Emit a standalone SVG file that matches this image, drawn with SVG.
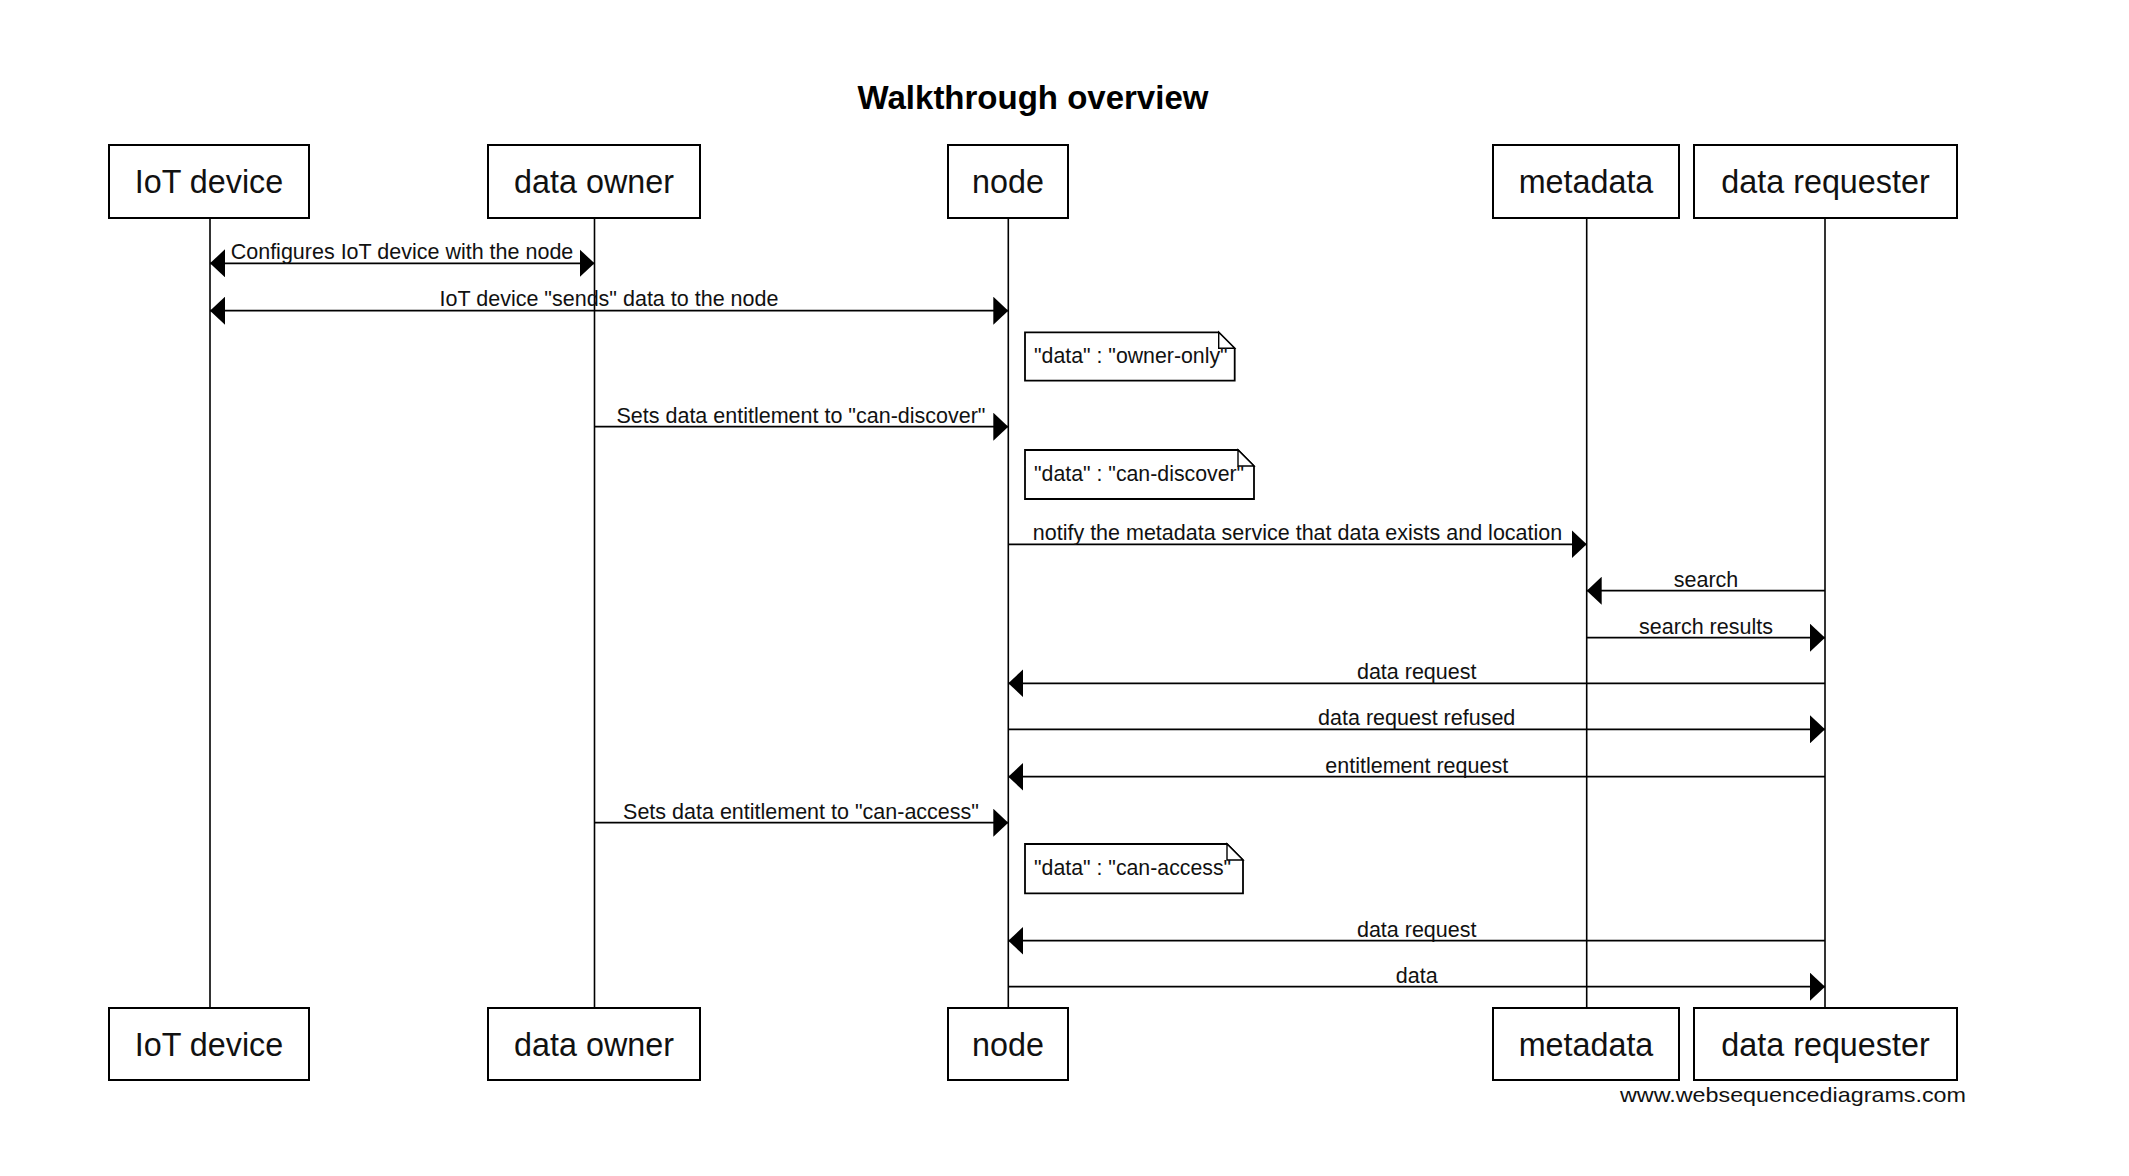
<svg xmlns="http://www.w3.org/2000/svg" width="2129" height="1176" viewBox="0 0 2129 1176">
<defs>
<style>
.box{fill:#fff;stroke:#000;stroke-width:2}
.life{stroke:#000;stroke-width:1.6;fill:none}
.msg{stroke:#000;stroke-width:1.8;fill:none}
.note{fill:#fff;stroke:#000;stroke-width:1.8}
.fold{fill:#fff;stroke:#000;stroke-width:1.4}
.pt{font-family:"Liberation Sans",Arial,sans-serif;font-size:32.3px;text-anchor:middle;fill:#111}
.lbl{font-family:"Liberation Sans",Arial,sans-serif;font-size:21.5px;text-anchor:middle;fill:#111}
.ntx{font-family:"Liberation Sans",Arial,sans-serif;font-size:21.3px;fill:#111}
.title{font-family:"Liberation Sans",Arial,sans-serif;font-size:33px;font-weight:bold;text-anchor:middle;fill:#000}
.wm{font-family:"Liberation Sans",Arial,sans-serif;font-size:21px;fill:#111}
</style>
<marker id="ah" markerUnits="userSpaceOnUse" markerWidth="15" markerHeight="28" refX="15" refY="14" orient="auto-start-reverse" viewBox="0 0 15 28"><path d="M0,0 L15,14 L0,28 Z" fill="#000"/></marker>
</defs>
<rect width="2129" height="1176" fill="#fff"/>
<text class="title" x="1033" y="109">Walkthrough overview</text>

<g id="iot-device">
<line class="life" x1="210" y1="218" x2="210" y2="1008"/>
<rect class="box" x="109" y="145" width="200" height="73"/>
<text class="pt" x="209" y="193">IoT device</text>
<rect class="box" x="109" y="1008" width="200" height="72"/>
<text class="pt" x="209" y="1056">IoT device</text>
</g>
<g id="data-owner">
<line class="life" x1="594.5" y1="218" x2="594.5" y2="1008"/>
<rect class="box" x="488" y="145" width="212" height="73"/>
<text class="pt" x="594" y="193">data owner</text>
<rect class="box" x="488" y="1008" width="212" height="72"/>
<text class="pt" x="594" y="1056">data owner</text>
</g>
<g id="node">
<line class="life" x1="1008.3" y1="218" x2="1008.3" y2="1008"/>
<rect class="box" x="948" y="145" width="120" height="73"/>
<text class="pt" x="1008" y="193">node</text>
<rect class="box" x="948" y="1008" width="120" height="72"/>
<text class="pt" x="1008" y="1056">node</text>
</g>
<g id="metadata">
<line class="life" x1="1586.7" y1="218" x2="1586.7" y2="1008"/>
<rect class="box" x="1493" y="145" width="186" height="73"/>
<text class="pt" x="1586" y="193">metadata</text>
<rect class="box" x="1493" y="1008" width="186" height="72"/>
<text class="pt" x="1586" y="1056">metadata</text>
</g>
<g id="data-requester">
<line class="life" x1="1825" y1="218" x2="1825" y2="1008"/>
<rect class="box" x="1694" y="145" width="263" height="73"/>
<text class="pt" x="1825.5" y="193">data requester</text>
<rect class="box" x="1694" y="1008" width="263" height="72"/>
<text class="pt" x="1825.5" y="1056">data requester</text>
</g>

<g id="note-owner-only">
<path class="note" d="M1025,332.3 H1218.7 L1234.7,348.3 V380.7 H1025 Z"/>
<path class="fold" d="M1218.7,332.3 V348.3 H1234.7 Z"/>
<text class="ntx" x="1034" y="362.7">"data" : "owner-only"</text>
</g>
<g id="note-can-discover">
<path class="note" d="M1025,450 H1238 L1254,466 V499 H1025 Z"/>
<path class="fold" d="M1238,450 V466 H1254 Z"/>
<text class="ntx" x="1034" y="480.7">"data" : "can-discover"</text>
</g>
<g id="note-can-access">
<path class="note" d="M1025,844 H1227 L1243,860 V893.3 H1025 Z"/>
<path class="fold" d="M1227,844 V860 H1243 Z"/>
<text class="ntx" x="1034" y="875">"data" : "can-access"</text>
</g>

<g id="connectors">
<line class="msg" x1="210" y1="263.3" x2="594.5" y2="263.3" marker-start="url(#ah)" marker-end="url(#ah)"/>
<text class="lbl" x="402" y="259">Configures IoT device with the node</text>
<line class="msg" x1="210" y1="310.7" x2="1008.3" y2="310.7" marker-start="url(#ah)" marker-end="url(#ah)"/>
<text class="lbl" x="609" y="306">IoT device "sends" data to the node</text>
<line class="msg" x1="594.5" y1="426.7" x2="1008.3" y2="426.7" marker-end="url(#ah)"/>
<text class="lbl" x="801" y="422.5">Sets data entitlement to "can-discover"</text>
<line class="msg" x1="1008.3" y1="544.3" x2="1586.7" y2="544.3" marker-end="url(#ah)"/>
<text class="lbl" x="1297.5" y="540">notify the metadata service that data exists and location</text>
<line class="msg" x1="1825" y1="590.7" x2="1586.7" y2="590.7" marker-end="url(#ah)"/>
<text class="lbl" x="1706" y="586.5">search</text>
<line class="msg" x1="1586.7" y1="637.7" x2="1825" y2="637.7" marker-end="url(#ah)"/>
<text class="lbl" x="1706" y="633.5">search results</text>
<line class="msg" x1="1825" y1="683.3" x2="1008.3" y2="683.3" marker-end="url(#ah)"/>
<text class="lbl" x="1416.7" y="679">data request</text>
<line class="msg" x1="1008.3" y1="729.3" x2="1825" y2="729.3" marker-end="url(#ah)"/>
<text class="lbl" x="1416.7" y="725">data request refused</text>
<line class="msg" x1="1825" y1="776.7" x2="1008.3" y2="776.7" marker-end="url(#ah)"/>
<text class="lbl" x="1416.7" y="772.5">entitlement request</text>
<line class="msg" x1="594.5" y1="822.7" x2="1008.3" y2="822.7" marker-end="url(#ah)"/>
<text class="lbl" x="801" y="818.5">Sets data entitlement to "can-access"</text>
<line class="msg" x1="1825" y1="940.7" x2="1008.3" y2="940.7" marker-end="url(#ah)"/>
<text class="lbl" x="1416.7" y="936.5">data request</text>
<line class="msg" x1="1008.3" y1="986.7" x2="1825" y2="986.7" marker-end="url(#ah)"/>
<text class="lbl" x="1416.7" y="982.5">data</text>
</g>

<text class="wm" x="1620" y="1101.5" textLength="346" lengthAdjust="spacingAndGlyphs">www.websequencediagrams.com</text>
</svg>
